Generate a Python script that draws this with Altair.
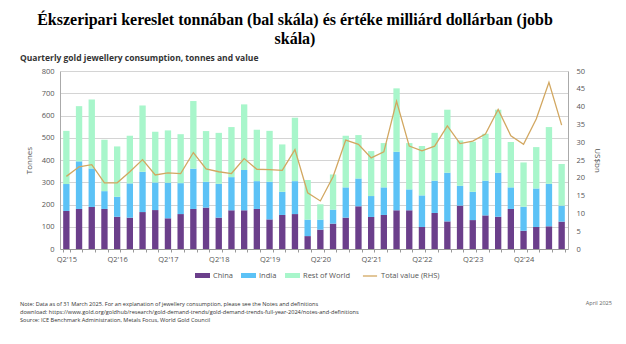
import altair as alt
import pandas as pd

quarters = ["Q2'15", "Q3'15", "Q4'15", "Q1'16", "Q2'16", "Q3'16", "Q4'16", "Q1'17",
            "Q2'17", "Q3'17", "Q4'17", "Q1'18", "Q2'18", "Q3'18", "Q4'18", "Q1'19",
            "Q2'19", "Q3'19", "Q4'19", "Q1'20", "Q2'20", "Q3'20", "Q4'20", "Q1'21",
            "Q2'21", "Q3'21", "Q4'21", "Q1'22", "Q2'22", "Q3'22", "Q4'22", "Q1'23",
            "Q2'23", "Q3'23", "Q4'23", "Q1'24", "Q2'24", "Q3'24", "Q4'24", "Q1'25"]
china = [171, 180, 189, 180, 145, 141, 166, 175, 138, 157, 180, 186, 141, 174, 174, 180,
         133, 153, 157, 58, 87, 114, 141, 192, 144, 153, 174, 174, 99, 162, 124, 195,
         130, 151, 145, 180, 82, 99, 102, 123]
india = [121, 214, 173, 80, 90, 154, 181, 124, 160, 139, 181, 116, 152, 149, 181, 125,
         169, 104, 148, 74, 45, 63, 136, 125, 94, 124, 263, 94, 142, 145, 219, 89,
         127, 156, 198, 97, 108, 173, 191, 72]
rest_of_world = [239, 248, 310, 231, 226, 214, 298, 228, 235, 220, 304, 228, 229, 225, 295, 231,
                 229, 213, 285, 178, 69, 158, 232, 195, 202, 199, 285, 208, 222, 215, 283, 204,
                 225, 211, 283, 204, 199, 186, 255, 187]
total_value = [20.4, 23.1, 23.7, 18.6, 18.6, 21.7, 25.1, 20.8, 21.4, 21.2, 27.1, 22.5, 21.7, 21.2,
               25.4, 22.4, 22.3, 22.1, 27.9, 15.8, 13.5, 20.3, 30.6, 29.4, 25.6, 27.3, 41.5, 28.9,
               27.6, 28.9, 34.6, 29.6, 30.3, 32.3, 39.2, 31.8, 29.4, 36.5, 46.8, 34.8]

regions = ["China", "India", "Rest of World"]
region_colors = ["#6B3F8B", "#5CC2F6", "#A8F6CB"]
line_color = "#D2A760"

title_lines = ["Ékszeripari kereslet tonnában (bal skála) és értéke milliárd dollárban (jobb",
               "skála)"]
subtitle_text = "Quarterly gold jewellery consumption, tonnes and value"
note_text = ("Note: Data as of 31 March 2025. For an explanation of jewellery consumption, please see the Notes and definitions\n"
             "download:  https://www.gold.org/goldhub/research/gold-demand-trends/gold-demand-trends-full-year-2024/notes-and-definitions\n"
             "Source: ICE Benchmark Administration, Metals Focus, World Gold Council")
date_text = "April 2025"

rows = []
for i, q in enumerate(quarters):
    for k, (name, vals) in enumerate(zip(regions, [china, india, rest_of_world])):
        rows.append({"quarter": q, "region": name, "tonnes": vals[i], "order": k})
bars_df = pd.DataFrame(rows)
line_df = pd.DataFrame({"quarter": quarters, "value": total_value,
                        "series": ["Total value (RHS)"] * len(quarters)})

FONT = "Open Sans"
LABEL_COLOR = "#555555"

xenc = alt.X(
    "quarter:N", sort=quarters,
    scale=alt.Scale(paddingInner=0.5, paddingOuter=0.25),
    axis=alt.Axis(title=None, labelAngle=0,
                  labelExpr="substring(datum.label, 0, 2) == 'Q2' ? datum.label : ''",
                  tickBand="extent", tickSize=3, tickColor="#999999",
                  domainColor="#999999", labelFont=FONT, labelFontSize=7.5,
                  labelColor=LABEL_COLOR, labelPadding=3, grid=False),
)

rect_path = "M-1,-0.33L1,-0.33L1,0.33L-1,0.33Z"

bars = alt.Chart(bars_df).mark_bar().encode(
    x=xenc,
    y=alt.Y("tonnes:Q", stack="zero", scale=alt.Scale(domain=[0, 800], nice=False),
            axis=alt.Axis(values=list(range(0, 801, 100)), title="Tonnes",
                          titleFont=FONT, titleFontSize=8, titleFontWeight="normal",
                          titleColor=LABEL_COLOR, titlePadding=8,
                          labelFont=FONT, labelFontSize=7.5, labelColor=LABEL_COLOR,
                          labelPadding=6, ticks=False, domainColor="#aaaaaa",
                          gridColor="#d4d4d4", gridWidth=1.2)),
    color=alt.Color("region:N", scale=alt.Scale(domain=regions, range=region_colors),
                    legend=alt.Legend(orient="none", legendX=135, legendY=197,
                                      direction="horizontal", title=None,
                                      symbolType=rect_path, symbolSize=225,
                                      symbolStrokeWidth=0, columnPadding=8,
                                      labelFont=FONT, labelFontSize=7.5,
                                      labelColor=LABEL_COLOR, labelOffset=3)),
    order=alt.Order("order:Q"),
)

line = alt.Chart(line_df).mark_line(strokeWidth=1.3).encode(
    x=xenc,
    y=alt.Y("value:Q", scale=alt.Scale(domain=[0, 50], nice=False),
            axis=alt.Axis(orient="right", values=list(range(0, 51, 5)), title="US$bn",
                          titleFont=FONT, titleFontSize=8, titleFontWeight="normal",
                          titleColor=LABEL_COLOR, titlePadding=8,
                          labelFont=FONT, labelFontSize=7.5, labelColor=LABEL_COLOR,
                          labelPadding=8, ticks=False, grid=False, domainColor="#aaaaaa")),
    stroke=alt.Stroke("series:N", scale=alt.Scale(range=[line_color]),
                      legend=alt.Legend(orient="none", legendX=302, legendY=197,
                                        title=None, symbolType="stroke", symbolSize=200,
                                        symbolStrokeWidth=1.3, labelFont=FONT,
                                        labelFontSize=7.5, labelColor=LABEL_COLOR,
                                        labelOffset=3)),
)

subtitle = alt.Chart(pd.DataFrame({"t": [subtitle_text]})).mark_text(
    align="left", baseline="middle", font=FONT, fontWeight="bold", fontSize=8.5,
    color="#333333",
).encode(x=alt.value(-40), y=alt.value(-13), text="t:N")

notes = alt.Chart(pd.DataFrame({"t": [note_text]})).mark_text(
    align="left", baseline="middle", font=FONT, fontSize=5.6, color="#333333",
    lineBreak="\n", lineHeight=8,
).encode(x=alt.value(-40), y=alt.value(233), text="t:N")

date = alt.Chart(pd.DataFrame({"t": [date_text]})).mark_text(
    align="right", baseline="middle", font=FONT, fontSize=5.6, color="#666666",
).encode(x=alt.value(552), y=alt.value(232), text="t:N")

chart = alt.layer(bars, line, subtitle, notes, date).resolve_scale(
    y="independent", color="independent", stroke="independent"
).properties(
    width=508, height=178,
    autosize=alt.AutoSizeParams(type="none"),
    padding={"left": 60, "top": 71, "right": 58, "bottom": 95},
    title=alt.TitleParams(text=title_lines, font="Liberation Serif", fontSize=16,
                          fontWeight="bold", color="#000000", anchor="middle",
                          dx=-19, offset=7, lineHeight=19),
).configure_view(stroke=None)

chart.save("out.html", embed_options={"renderer": "svg", "actions": False})
